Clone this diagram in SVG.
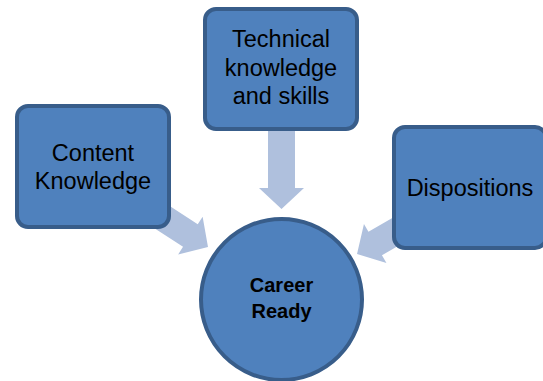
<svg xmlns="http://www.w3.org/2000/svg" width="543" height="381" viewBox="0 0 543 381">
<style>
.box{fill:#4F81BD;stroke:#385D8A;stroke-width:4}
.arr{fill:#AFC0DD}
.t{font-family:"Liberation Sans",Arial,sans-serif;font-size:23.5px;fill:#000;text-anchor:middle}
.b{font-family:"Liberation Sans",Arial,sans-serif;font-size:20px;font-weight:bold;fill:#000;text-anchor:middle}
</style>
<defs>
<path id="arrow" d="M0,-13.5 H59 V-22.5 L80,0 L59,22.5 V13.5 H0 Z"/>
</defs>
<rect width="543" height="381" fill="#fff"/>
<g id="connectors">
<use href="#arrow" class="arr" transform="translate(281.5,129) rotate(90)"/>
<use href="#arrow" class="arr" transform="translate(140.9,203.4) rotate(33)"/>
<use href="#arrow" class="arr" transform="translate(426.3,214) rotate(150)"/>
</g>
<g id="content-knowledge">
<rect class="box" x="17" y="106" width="152" height="121" rx="11"/>
<text class="t" x="93" y="161">Content</text>
<text class="t" x="93" y="189">Knowledge</text>
</g>
<g id="technical">
<rect class="box" x="205" y="9" width="152" height="120" rx="11"/>
<text class="t" x="281" y="47">Technical</text>
<text class="t" x="281" y="75.5">knowledge</text>
<text class="t" x="281" y="104">and skills</text>
</g>
<g id="dispositions">
<rect class="box" x="394" y="127" width="152" height="121" rx="11"/>
<text class="t" x="470" y="196">Dispositions</text>
</g>
<g id="career-ready">
<circle class="box" cx="281.5" cy="299.5" r="80.5"/>
<text class="b" x="281.5" y="292">Career</text>
<text class="b" x="281.5" y="318">Ready</text>
</g>
</svg>
